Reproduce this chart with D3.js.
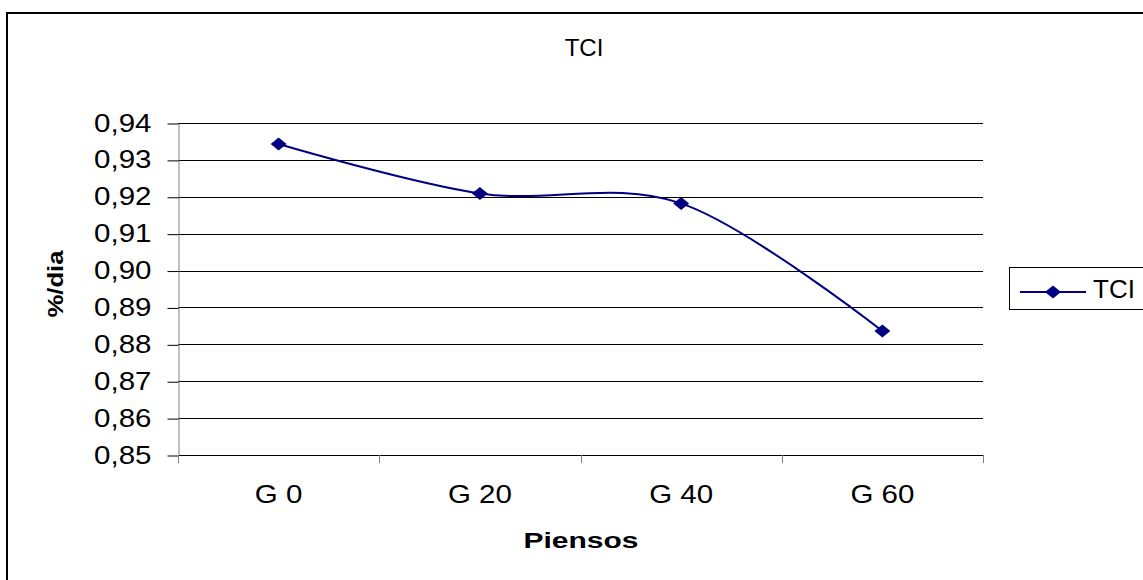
<!DOCTYPE html>
<html>
<head>
<meta charset="utf-8">
<script src="https://cdn.jsdelivr.net/npm/d3@7"></script>
<style>
  html, body { margin: 0; padding: 0; background: #fff; }
  svg { display: block; font-family: "Liberation Sans", Arial, sans-serif; }
</style>
</head>
<body>
<svg id="chart" width="1143" height="580"></svg>
<script>
// ---- data ----
const categories = ["G 0", "G 20", "G 40", "G 60"];
const tciValues = [0.9343, 0.9209, 0.9182, 0.8836];
const yTicks = [0.85, 0.86, 0.87, 0.88, 0.89, 0.90, 0.91, 0.92, 0.93, 0.94];
const seriesName = "TCI";
const chartTitle = "TCI";
const xTitle = "Piensos";
const yTitle = "%/dia";

// ---- layout ----
const svg = d3.select("#chart");
const plot = { left: 178, right: 983, top: 123, bottom: 455 };
const navy = "#000080";

const locale = d3.formatLocale({ decimal: ",", thousands: ".", grouping: [3], currency: ["", "€"] });
const fmt = locale.format(".2f");

const x = d3.scaleBand().domain(categories).range([plot.left, plot.right]).padding(0);
const y = d3.scaleLinear().domain([0.85, 0.94]).range([plot.bottom, plot.top]);

// outer chart border
svg.append("rect")
  .attr("x", 7).attr("y", 13).attr("width", 1200).attr("height", 620)
  .attr("fill", "#fff").attr("stroke", "#000").attr("stroke-width", 2);

// gridlines
svg.append("g").selectAll("line").data(yTicks).join("line")
  .attr("x1", plot.left).attr("x2", plot.right)
  .attr("y1", d => Math.round(y(d)) + 0.5).attr("y2", d => Math.round(y(d)) + 0.5)
  .attr("stroke", "#000").attr("stroke-width", 1);

// y axis
const yAxis = svg.append("g")
  .attr("transform", `translate(${plot.left + 0.5},0)`)
  .call(d3.axisLeft(y).tickValues(yTicks).tickFormat(fmt).tickSize(11).tickSizeOuter(0));
yAxis.select(".domain").attr("stroke", "#808080");
yAxis.selectAll(".tick line").attr("stroke", "#000").attr("transform", "translate(0,0.5)");
yAxis.selectAll(".tick text")
  .attr("x", 0).attr("dy", null).attr("y", 0)
  .attr("transform", "translate(-27,8) scale(1.18,1)")
  .attr("font-size", 25).attr("fill", "#000")
  .attr("font-family", "'Liberation Sans', Arial, sans-serif");

// x axis labels
const xAxis = svg.append("g")
  .attr("transform", `translate(0,${plot.bottom})`)
  .call(d3.axisBottom(x).tickSize(0).tickSizeOuter(0));
xAxis.select(".domain").remove();
xAxis.selectAll(".tick text")
  .attr("y", 0).attr("dy", null)
  .attr("transform", "translate(0,48) scale(1.18,1)")
  .attr("font-size", 25).attr("fill", "#000")
  .attr("font-family", "'Liberation Sans', Arial, sans-serif");

// x tick marks at category boundaries
const bounds = categories.map(c => x(c)).concat([x(categories[categories.length - 1]) + x.bandwidth()]);
svg.append("g").selectAll("line").data(bounds).join("line")
  .attr("x1", d => Math.round(d) + 0.5).attr("x2", d => Math.round(d) + 0.5)
  .attr("y1", plot.bottom).attr("y2", plot.bottom + 8)
  .attr("stroke", "#808080").attr("stroke-width", 1);

// line
const cx = c => x(c) + x.bandwidth() / 2;
const line = d3.line().x((d, i) => cx(categories[i])).y(d => y(d)).curve(d3.curveCatmullRom.alpha(0));
svg.append("path").datum(tciValues)
  .attr("d", line).attr("fill", "none").attr("stroke", navy).attr("stroke-width", 2);

// diamond markers
const diamond = (px, py) => `M${px},${py - 6.5}L${px + 8},${py}L${px},${py + 6.5}L${px - 8},${py}Z`;
svg.append("g").selectAll("path").data(tciValues).join("path")
  .attr("d", (d, i) => diamond(cx(categories[i]), y(d)))
  .attr("fill", navy);

// title
svg.append("text").attr("x", 584).attr("y", 56).attr("text-anchor", "middle")
  .attr("font-size", 24).text(chartTitle);

// axis titles
svg.append("text").attr("x", 581).attr("y", 548).attr("text-anchor", "middle")
  .attr("font-size", 22).attr("font-weight", "bold")
  .attr("textLength", 115).attr("lengthAdjust", "spacingAndGlyphs")
  .text(xTitle);
svg.append("text")
  .attr("transform", "translate(63,284) rotate(-90)")
  .attr("text-anchor", "middle")
  .attr("font-size", 22).attr("font-weight", "bold")
  .attr("textLength", 67).attr("lengthAdjust", "spacingAndGlyphs")
  .text(yTitle);

// legend
const lg = svg.append("g");
lg.append("rect").attr("x", 1009.5).attr("y", 267.5).attr("width", 200).attr("height", 42)
  .attr("fill", "#fff").attr("stroke", "#000").attr("stroke-width", 1);
lg.append("line").attr("x1", 1020).attr("x2", 1086).attr("y1", 292).attr("y2", 292)
  .attr("stroke", navy).attr("stroke-width", 2);
lg.append("path").attr("d", diamond(1053, 292)).attr("fill", navy);
lg.append("text").attr("x", 1093).attr("y", 298).attr("font-size", 26).text(seriesName);
</script>
</body>
</html>
